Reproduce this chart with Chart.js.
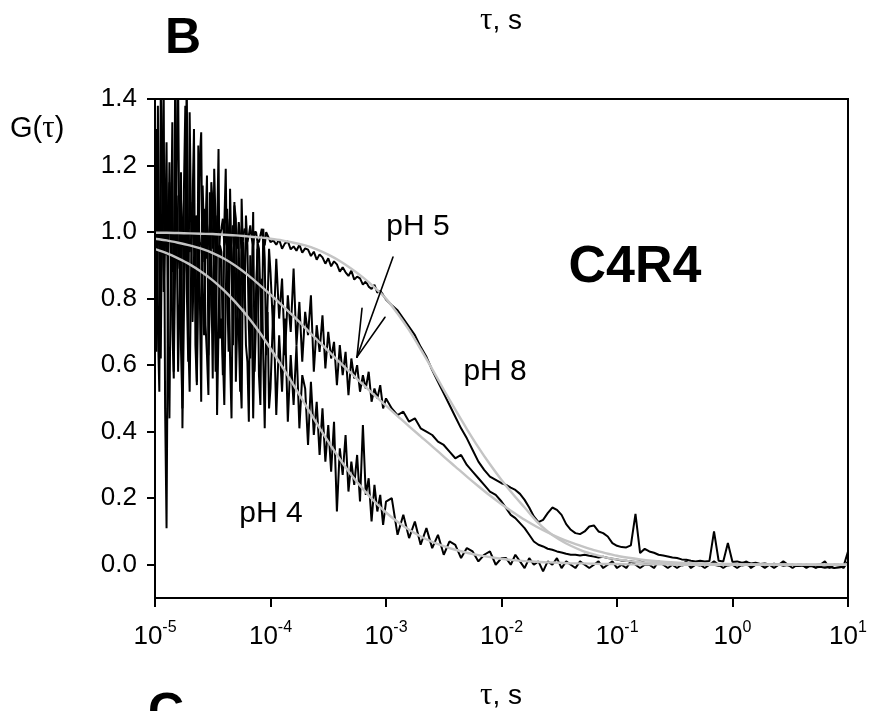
<!DOCTYPE html>
<html><head><meta charset="utf-8">
<script src="https://cdn.jsdelivr.net/npm/chart.js@4.4.1/dist/chart.umd.min.js"></script>
<style>html,body{margin:0;padding:0;background:#fff;}canvas{display:block;}</style>
</head><body>
<canvas id="c" width="871" height="711"></canvas>
<script>
// ---- sampling grid of the measured curves: log10(tau / s) ----
const logTauData = [
-5,-4.9875,-4.975,-4.9625,-4.95,-4.9375,-4.925,-4.9125,-4.9,-4.8875,
-4.875,-4.8625,-4.85,-4.8375,-4.825,-4.8125,-4.8,-4.7875,-4.775,-4.7625,
-4.75,-4.7375,-4.725,-4.7125,-4.7,-4.6875,-4.675,-4.6625,-4.65,-4.6375,
-4.625,-4.6125,-4.6,-4.5875,-4.575,-4.5625,-4.55,-4.5375,-4.525,-4.5125,
-4.5,-4.4875,-4.475,-4.4625,-4.45,-4.4375,-4.425,-4.4125,-4.4,-4.3875,
-4.375,-4.3625,-4.35,-4.3375,-4.325,-4.3125,-4.3,-4.2875,-4.275,-4.2625,
-4.25,-4.2375,-4.225,-4.2125,-4.2,-4.1875,-4.175,-4.1625,-4.15,-4.1375,
-4.125,-4.1125,-4.1,-4.0875,-4.075,-4.0625,-4.05,-4.0375,-4.025,-4.0125,
-4,
-3.975,-3.95,-3.925,-3.9,-3.875,-3.85,-3.825,-3.8,-3.775,-3.75,
-3.725,-3.7,-3.675,-3.65,-3.625,-3.6,-3.575,-3.55,-3.525,-3.5,
-3.475,-3.45,-3.425,-3.4,-3.375,-3.35,-3.325,-3.3,-3.275,-3.25,
-3.225,-3.2,-3.175,-3.15,-3.125,-3.1,-3.075,-3.05,-3.025,-3,
-2.95,-2.9,-2.85,-2.8,-2.75,-2.7,-2.65,-2.6,-2.55,-2.5,
-2.45,-2.4,-2.35,-2.3,-2.25,-2.2,-2.15,-2.1,-2.05,-2,
-1.96,-1.92,-1.88,-1.84,-1.8,-1.76,-1.72,-1.68,-1.64,-1.6,
-1.56,-1.52,-1.48,-1.44,-1.4,-1.36,-1.32,-1.28,-1.24,-1.2,
-1.16,-1.12,-1.08,-1.04,-1,-0.96,-0.92,-0.88,-0.84,-0.8,
-0.76,-0.72,-0.68,-0.64,-0.6,-0.56,-0.52,-0.48,-0.44,-0.4,
-0.36,-0.32,-0.28,-0.24,-0.2,-0.16,-0.12,-0.08,-0.04,0,
0.04,0.08,0.12,0.16,0.2,0.24,0.28,0.32,0.36,0.4,
0.44,0.48,0.52,0.56,0.6,0.64,0.68,0.72,0.76,0.8,
0.84,0.88,0.92,0.96,1
];

// ---- measured G(tau), pH 4 ----
const gPH4 = [
0.95,0.64,1.38,0.88,0.62,1.12,1.45,0.47,0.11,0.83,
1.21,0.97,0.71,0.56,1.52,1.03,0.58,0.79,1.18,0.41,
0.74,1.06,1.47,0.69,0.52,0.88,1.08,1.31,0.66,0.54,
1.26,0.83,0.49,1.14,0.98,0.72,0.63,0.51,1.12,0.87,
0.56,1.19,1.02,0.45,0.71,0.96,0.94,0.63,0.48,0.79,
1.07,0.92,0.62,0.44,0.91,1.09,0.55,0.73,0.99,0.58,
0.47,0.97,0.88,0.66,0.61,0.43,0.93,0.78,0.44,0.69,
0.82,0.95,0.57,0.48,0.86,0.62,0.41,0.71,0.76,0.47,
0.53,
0.78,0.45,0.69,0.52,0.74,0.43,0.63,0.48,0.66,0.41,
0.57,0.53,0.36,0.55,0.39,0.49,0.33,0.47,0.31,0.42,
0.28,0.43,0.16,0.35,0.27,0.39,0.22,0.31,0.24,0.33,
0.19,0.42,0.21,0.26,0.13,0.24,0.16,0.21,0.12,0.19,
0.20,0.09,0.15,0.08,0.13,0.06,0.11,0.05,0.09,0.03,
0.07,0.06,0.02,0.05,0.04,0.01,0.03,0.04,0.00,0.02,
0.02,0.00,0.03,0.01,-0.01,0.02,0.00,0.01,-0.02,0.01,
0.00,0.02,-0.01,0.01,0.00,-0.01,0.01,0.00,-0.01,0.00,
0.01,-0.01,0.00,0.01,-0.01,0.00,-0.01,0.01,0.00,-0.01,
0.00,0.00,-0.01,0.01,0.00,-0.01,0.00,-0.01,0.00,0.01,
-0.01,0.00,0.00,-0.01,0.00,0.01,0.00,-0.01,0.00,0.00,
-0.01,0.00,0.01,-0.01,0.00,0.00,-0.01,0.00,-0.01,0.00,
0.01,0.00,-0.01,0.00,0.00,-0.01,0.00,-0.01,0.00,0.01,
-0.01,0.00,0.00,-0.01,0.01
];

// ---- measured G(tau), pH 5 ----
const gPH5 = [
1.02,1.31,0.71,0.52,1.43,1.18,0.82,0.97,1.27,0.66,
0.44,0.93,1.33,0.58,0.91,1.21,1.46,0.89,0.65,0.47,
1.12,1.38,0.83,0.61,1.36,1.02,0.73,0.92,1.05,0.55,
0.86,1.22,1.30,0.81,0.69,1.01,1.17,0.63,0.78,1.15,
1.08,0.87,0.58,0.99,1.25,0.68,0.74,0.57,1.02,1.19,
0.83,0.64,1.13,0.90,0.66,1.08,1.04,0.76,0.71,0.52,
1.10,0.93,0.77,1.05,0.96,0.71,0.62,0.84,1.06,0.58,
0.74,0.97,0.95,0.81,0.68,1.01,0.92,0.63,0.79,0.95,
0.88,
0.69,0.92,0.74,0.86,0.63,0.81,0.70,0.89,0.66,0.79,
0.61,0.76,0.69,0.81,0.58,0.72,0.64,0.75,0.59,0.70,
0.62,0.67,0.54,0.66,0.57,0.64,0.51,0.62,0.56,0.60,
0.52,0.57,0.53,0.58,0.49,0.53,0.50,0.54,0.47,0.50,
0.47,0.45,0.46,0.43,0.44,0.41,0.40,0.39,0.37,0.36,
0.34,0.32,0.33,0.30,0.28,0.26,0.24,0.22,0.21,0.19,
0.17,0.15,0.14,0.125,0.11,0.09,0.07,0.06,0.055,0.048,
0.045,0.04,0.037,0.033,0.03,0.03,0.028,0.03,0.027,0.025,
0.022,0.024,0.02,0.018,0.016,0.013,0.012,0.01,0.008,0.01,
0.006,0.004,0.006,0.003,0.002,0.004,0,0.002,-0.002,0.001,
-0.003,0,-0.002,0.002,-0.001,0,-0.003,0.001,-0.002,0,
0.002,-0.002,0,-0.004,-0.001,0.001,-0.003,0,-0.002,0.001,
-0.003,-0.001,0,-0.004,-0.002,0,-0.003,-0.001,0.001,-0.002,
-0.004,0,-0.002,-0.001,0
];

// ---- measured G(tau), pH 8 ----
const gPH8 = [
0.99,0.91,1.12,1.03,0.86,0.97,1.08,1.16,0.93,1.01,
1.15,0.94,0.88,0.96,1.04,1.11,0.95,0.89,1.10,1.02,
0.87,0.93,1.06,1.00,0.94,0.98,1.09,0.95,0.90,1.05,
1.03,0.97,0.96,0.91,1.07,1.02,0.92,0.98,1.02,1.06,
0.95,0.99,1.05,0.96,0.93,0.99,1.01,1.04,0.96,0.98,
1.04,0.99,0.94,0.97,1.02,1.00,0.97,0.95,1.03,0.99,
0.95,0.98,1.01,1.00,0.97,0.99,1.02,0.98,0.96,1.00,
1.00,0.97,0.97,0.99,1.01,0.97,0.96,1.00,0.99,0.98,
0.97,
0.975,0.962,0.978,0.950,0.966,0.972,0.948,0.957,0.944,0.962,
0.938,0.951,0.947,0.928,0.941,0.917,0.933,0.924,0.905,0.921,
0.897,0.912,0.903,0.881,0.894,0.879,0.868,0.884,0.857,0.866,
0.861,0.842,0.852,0.836,0.829,0.841,0.818,0.823,0.811,0.797,
0.78,0.765,0.74,0.715,0.69,0.655,0.625,0.585,0.55,0.515,
0.48,0.445,0.41,0.38,0.345,0.31,0.285,0.265,0.255,0.245,
0.24,0.232,0.225,0.213,0.195,0.172,0.145,0.128,0.135,0.155,
0.172,0.165,0.15,0.122,0.105,0.095,0.092,0.10,0.115,0.118,
0.10,0.095,0.085,0.065,0.057,0.053,0.052,0.058,0.153,0.035,
0.048,0.04,0.036,0.03,0.028,0.025,0.022,0.02,0.016,0.015,
0.012,0.01,0.012,0.01,0.011,0.10,0.012,0.01,0.065,0.008,
0.01,0.006,0.008,0.004,0.006,0.002,0.004,0.001,0.003,-0.001,
0.002,-0.002,0,-0.004,-0.002,-0.006,-0.004,-0.008,-0.006,-0.009,
-0.007,-0.01,-0.008,-0.006,0.04
];

// ---- fitted curves (grey), grid log10(tau / s) ----
const logTauFit = [
-5,-4.9,-4.8,-4.7,-4.6,-4.5,-4.4,-4.3,-4.2,-4.1,
-4,-3.9,-3.8,-3.7,-3.6,-3.5,-3.4,-3.3,-3.2,-3.1,
-3,-2.9,-2.8,-2.7,-2.6,-2.5,-2.4,-2.3,-2.2,-2.1,
-2,-1.9,-1.8,-1.7,-1.6,-1.5,-1.4,-1.3,-1.2,-1.1,
-1,-0.9,-0.8,-0.7,-0.6,-0.5,-0.4,-0.3,-0.2,-0.1,
0,0.1,0.2,0.3,0.4,0.5,0.6,0.7,0.8,0.9,
1
];
const fitPH8 = [
0.998,0.998,0.997,0.996,0.995,0.994,0.992,0.990,0.987,0.984,
0.980,0.975,0.968,0.960,0.948,0.932,0.913,0.890,0.864,0.834,
0.800,0.755,0.705,0.648,0.588,0.526,0.466,0.408,0.353,0.302,
0.255,0.212,0.172,0.132,0.100,0.076,0.057,0.042,0.031,0.022,
0.016,0.011,0.008,0.006,0.004,0.003,0.002,0.001,0.001,0.001,
0,0,0,0,0,0,0,0,0,0,
0
];
const fitPH5 = [
0.980,0.975,0.968,0.960,0.950,0.937,0.920,0.898,0.872,0.843,
0.812,0.780,0.747,0.712,0.677,0.643,0.608,0.575,0.542,0.510,
0.478,0.447,0.416,0.386,0.356,0.325,0.295,0.265,0.236,0.208,
0.182,0.158,0.135,0.115,0.097,0.081,0.067,0.055,0.044,0.035,
0.027,0.021,0.016,0.012,0.009,0.007,0.005,0.004,0.003,0.002,
0.002,0.001,0.001,0.001,0.001,0,0,0,0,0,
0
];
const fitPH4 = [
0.949,0.937,0.921,0.903,0.881,0.855,0.824,0.788,0.747,0.701,
0.650,0.596,0.540,0.482,0.425,0.370,0.318,0.270,0.228,0.190,
0.157,0.129,0.105,0.085,0.069,0.056,0.045,0.036,0.029,0.023,
0.018,0.014,0.011,0.009,0.007,0.006,0.004,0.004,0.003,0.002,
0.002,0.001,0.001,0.001,0.001,0,0,0,0,0,
0,0,0,0,0,0,0,0,0,0,
0
];

// ---- axis ticks ----
const xTickValues = [1e-5,1e-4,1e-3,1e-2,1e-1,1,10];
const xTickExponents = ['-5','-4','-3','-2','-1','0','1'];
const yTickValues = [0,0.2,0.4,0.6,0.8,1.0,1.2,1.4];

// ---- text annotations (data coordinates) ----
const curveLabels = [
  {text:'pH 5', tau:1.89e-3, g:0.991},
  {text:'pH 8', tau:8.8e-3, g:0.555},
  {text:'pH 4', tau:1.01e-4, g:0.128}
];
const sampleLabel = {text:'C4R4', tau:0.143, g:0.85};
const arrowTip = {tau:5.6e-4, g:0.624};
const arrowTails = [{tau:1.15e-3, g:0.925},{tau:6.2e-4, g:0.771},{tau:9.8e-4, g:0.744}];

// sanity check
[gPH4,gPH5,gPH8].forEach((a,i)=>{ if(a.length!==logTauData.length) throw new Error('data length '+i+': '+a.length+' vs '+logTauData.length); });
[fitPH8,fitPH5,fitPH4].forEach((a,i)=>{ if(a.length!==logTauFit.length) throw new Error('fit length '+i+': '+a.length); });

const toPts = (lx, ys) => lx.map((l,i)=>({x: Math.pow(10,l), y: ys[i]}));

const SANS = '"Liberation Sans", Arial, Helvetica, sans-serif';
const SERIF = '"Liberation Serif", "Times New Roman", serif';
Chart.defaults.font.family = SANS;
Chart.defaults.color = '#000';

const dataStyle = {borderColor:'#000', borderWidth:2, pointRadius:0, tension:0, borderJoinStyle:'bevel', fill:false, order:1};
const fitStyle = {borderColor:'#c4c4c4', borderWidth:2.4, pointRadius:0, cubicInterpolationMode:'monotone', fill:false, order:0};

const decor = {
  id:'decor',
  beforeDraw(chart){
    const c = chart.ctx; c.save(); c.fillStyle='#fff'; c.fillRect(0,0,chart.width,chart.height); c.restore();
  },
  afterDatasetsDraw(chart){
    const {ctx, chartArea:a, scales:{x, y}} = chart;
    ctx.save();
    ctx.strokeStyle='#000'; ctx.lineWidth=2;
    ctx.strokeRect(a.left, a.top, a.right-a.left, a.bottom-a.top);
    ctx.fillStyle='#000';
    ctx.textBaseline='alphabetic';
    xTickValues.forEach((v,i)=>{
      const px = x.getPixelForValue(v);
      ctx.font = '26px '+SANS; const w1 = ctx.measureText('10').width;
      ctx.font = '16px '+SANS; const w2 = ctx.measureText(xTickExponents[i]).width;
      const left = px - (w1+w2)/2;
      ctx.textAlign='left';
      ctx.font = '26px '+SANS; ctx.fillText('10', left, a.bottom+46);
      ctx.font = '16px '+SANS; ctx.fillText(xTickExponents[i], left+w1, a.bottom+34);
    });
    ctx.textAlign='center';
    ctx.font = '30px '+SANS;
    curveLabels.forEach(l=>ctx.fillText(l.text, x.getPixelForValue(l.tau), y.getPixelForValue(l.g)));
    ctx.font = 'bold 52px '+SANS;
    ctx.fillText(sampleLabel.text, x.getPixelForValue(sampleLabel.tau), y.getPixelForValue(sampleLabel.g));
    ctx.lineWidth=1.6; ctx.lineCap='round';
    const tx = x.getPixelForValue(arrowTip.tau), ty = y.getPixelForValue(arrowTip.g);
    arrowTails.forEach(t=>{ ctx.beginPath(); ctx.moveTo(x.getPixelForValue(t.tau), y.getPixelForValue(t.g)); ctx.lineTo(tx,ty); ctx.stroke(); });
    ctx.restore();
  },
  afterDraw(chart){
    const ctx = chart.ctx;
    ctx.save();
    ctx.fillStyle='#000'; ctx.textBaseline='alphabetic'; ctx.textAlign='left';
    ctx.font='bold 50px '+SANS;
    ctx.fillText('B', 165, 53);
    ctx.fillText('C', 148, 728);
    const tauS = (cx, base) => {
      ctx.font='31px '+SERIF; const w1 = ctx.measureText('τ').width;
      ctx.font='28px '+SANS; const w2 = ctx.measureText(', s').width;
      const left = cx - (w1+w2)/2;
      ctx.font='31px '+SERIF; ctx.fillText('τ', left, base);
      ctx.font='28px '+SANS; ctx.fillText(', s', left+w1, base);
    };
    tauS(501, 29);
    tauS(501, 704);
    let gx = 10; const gb = 137;
    ctx.font='29px '+SANS; ctx.fillText('G(', gx, gb); gx += ctx.measureText('G(').width;
    ctx.font='31px '+SERIF; ctx.fillText('τ', gx, gb); gx += ctx.measureText('τ').width;
    ctx.font='29px '+SANS; ctx.fillText(')', gx, gb);
    ctx.restore();
  }
};

new Chart(document.getElementById('c'), {
  type:'line',
  data:{
    datasets:[
      Object.assign({label:'pH 8 fit', data: toPts(logTauFit, fitPH8)}, fitStyle),
      Object.assign({label:'pH 5 fit', data: toPts(logTauFit, fitPH5)}, fitStyle),
      Object.assign({label:'pH 4 fit', data: toPts(logTauFit, fitPH4)}, fitStyle),
      Object.assign({label:'pH 8', data: toPts(logTauData, gPH8)}, dataStyle),
      Object.assign({label:'pH 5', data: toPts(logTauData, gPH5)}, dataStyle),
      Object.assign({label:'pH 4', data: toPts(logTauData, gPH4)}, dataStyle)
    ]
  },
  options:{
    responsive:false, animation:false, devicePixelRatio:1,
    layout:{padding:{top:99, right:23, bottom:53, left:0}},
    plugins:{legend:{display:false}, tooltip:{enabled:false}},
    scales:{
      x:{
        type:'logarithmic', position:'bottom', min:1e-5, max:10,
        afterBuildTicks:(s)=>{ s.ticks = xTickValues.map(v=>({value:v})); },
        afterFit:(s)=>{ s.height = 60; },
        ticks:{display:false},
        grid:{display:true, drawOnChartArea:false, drawTicks:true, tickLength:9, color:'#000', lineWidth:2},
        border:{display:false}
      },
      y:{
        type:'linear', position:'left', min:-0.1, max:1.4,
        afterBuildTicks:(s)=>{ s.ticks = yTickValues.map(v=>({value:v})); },
        afterFit:(s)=>{ s.width = 155; },
        ticks:{font:{size:26}, color:'#000', padding:10, callback:(v)=>Number(v).toFixed(1)},
        grid:{display:true, drawOnChartArea:false, drawTicks:true, tickLength:8, color:'#000', lineWidth:2},
        border:{display:false}
      }
    }
  },
  plugins:[decor]
});
</script>
</body></html>
